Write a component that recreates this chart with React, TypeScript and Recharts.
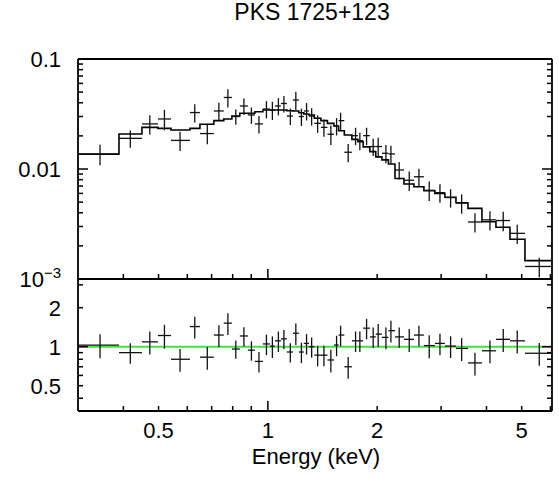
import React from "react";
import { ComposedChart, ErrorBar, Line, ReferenceLine, Scatter, XAxis, YAxis } from "recharts";

// channel bins (keV)
const binEdges = [
  0.3, 0.389, 0.45, 0.498, 0.541, 0.61, 0.65, 0.71, 0.756, 0.796, 0.837, 0.881, 0.921, 0.969, 1.013, 1.045,
  1.086, 1.128, 1.172, 1.217, 1.256, 1.297, 1.343, 1.4, 1.459, 1.52, 1.566, 1.624, 1.704, 1.77, 1.83, 1.91,
  1.982, 2.061, 2.148, 2.239, 2.37, 2.525, 2.69, 2.884, 3.073, 3.296, 3.556, 3.886, 4.247, 4.642, 5.105, 6.06,
];
const energy = [
  0.345, 0.418, 0.473, 0.519, 0.573, 0.629, 0.681, 0.733, 0.776, 0.816, 0.859, 0.901, 0.945, 0.991, 1.029, 1.069,
  1.107, 1.153, 1.194, 1.237, 1.278, 1.32, 1.371, 1.427, 1.491, 1.546, 1.586, 1.664, 1.744, 1.792, 1.87, 1.95,
  2.013, 2.114, 2.182, 2.3, 2.451, 2.606, 2.782, 2.978, 3.186, 3.417, 3.718, 4.089, 4.448, 4.861, 5.59,
];
const flux = [
  0.0137, 0.019, 0.0257, 0.0285, 0.0182, 0.0326, 0.021, 0.0337, 0.0447, 0.03, 0.0374, 0.031, 0.0257, 0.0351, 0.0344,
  0.0374, 0.0394, 0.0303, 0.0424, 0.03, 0.0337, 0.0303, 0.026, 0.0239, 0.0207, 0.0246, 0.0275, 0.0142, 0.0201,
  0.0181, 0.0201, 0.016, 0.016, 0.0139, 0.0137, 0.0098, 0.0079, 0.0085, 0.0064, 0.0061, 0.0055, 0.0049, 0.0033,
  0.00345, 0.0034, 0.0026, 0.0013,
];
const model = [
  0.0136, 0.0208, 0.0239, 0.0234, 0.0226, 0.0234, 0.0255, 0.0275, 0.0285, 0.0303, 0.0321, 0.0321, 0.0332, 0.0344,
  0.0344, 0.0344, 0.0344, 0.0339, 0.0337, 0.0325, 0.0316, 0.031, 0.0289, 0.0275, 0.026, 0.0246, 0.0223, 0.0204,
  0.0186, 0.0177, 0.0159, 0.0144, 0.0129, 0.0121, 0.0111, 0.0082, 0.0073, 0.0069, 0.00635, 0.006, 0.00553, 0.00494,
  0.00439, 0.00332, 0.00295, 0.0023, 0.00147,
];
const ratio = [
  1.03, 0.9, 1.09, 1.22, 0.8, 1.43, 0.83, 1.23, 1.52, 0.96, 1.21, 0.94, 0.77, 1.05, 1.01, 1.11, 1.15, 0.91, 1.27,
  0.91, 1.06, 1.0, 0.86, 0.86, 0.79, 1.03, 1.23, 0.7, 1.11, 1.11, 1.39, 1.19, 1.25, 1.18, 1.33, 1.19, 1.14, 1.23,
  1.02, 1.06, 1.01, 0.97, 0.75, 0.93, 1.14, 1.11, 0.89,
];
const relErr = [
  0.21, 0.18, 0.2, 0.21, 0.2, 0.19, 0.2, 0.19, 0.19, 0.16, 0.17, 0.17, 0.18, 0.18, 0.19, 0.18, 0.17, 0.17, 0.19,
  0.18, 0.18, 0.18, 0.18, 0.18, 0.2, 0.18, 0.18, 0.19, 0.18, 0.18, 0.18, 0.18, 0.2, 0.19, 0.19, 0.18, 0.2, 0.18,
  0.2, 0.19, 0.19, 0.2, 0.2, 0.2, 0.2, 0.2, 0.2,
];

const xTicks = [0.4, 0.5, 0.6, 0.7, 0.8, 0.9, 1, 2, 3, 4, 5, 6];
const xTickLabels: Record<string, string> = { "0.5": "0.5", "1": "1", "2": "2", "5": "5" };
const fluxTicks = [
  0.001, 0.002, 0.003, 0.004, 0.005, 0.006, 0.007, 0.008, 0.009, 0.01, 0.02, 0.03, 0.04, 0.05, 0.06, 0.07, 0.08,
  0.09, 0.1,
];
const fluxTickLabels: Record<string, string> = { "0.1": "0.1", "0.01": "0.01", "0.001": "10^−3" };
const ratioTicks = [0.4, 0.5, 0.6, 0.7, 0.8, 0.9, 1, 2, 3];
const ratioTickLabels: Record<string, string> = { "2": "2", "1": "1", "0.5": "0.5" };

const FONT = "'Liberation Sans', Arial, Helvetica, sans-serif";
const X_DOMAIN = [0.3, 6.06];

const specPoints = energy.map((e, i) => ({
  x: e,
  y: flux[i],
  xErr: [e - binEdges[i], binEdges[i + 1] - e],
  yErr: flux[i] * relErr[i],
}));
const ratioPoints = energy.map((e, i) => ({
  x: e,
  y: ratio[i],
  xErr: [e - binEdges[i], binEdges[i + 1] - e],
  yErr: ratio[i] * relErr[i],
}));
const modelSteps = binEdges.map((e, i) => ({ x: e, y: model[Math.min(i, model.length - 1)] }));

const isDecade = (v: number) => Math.abs(Math.log10(v) - Math.round(Math.log10(v))) < 1e-6;

function makeTick(side: "bottom" | "top" | "left" | "right", labels?: Record<string, string>) {
  return (props: any) => {
    const { x, y, payload } = props;
    const v = payload.value;
    const len = isDecade(v) ? 10 : 5;
    let line = null;
    if (side === "bottom") line = <line x1={x} x2={x} y1={y} y2={y - len} />;
    if (side === "top") line = <line x1={x} x2={x} y1={y} y2={y + len} />;
    if (side === "left") line = <line x1={x} x2={x + len} y1={y} y2={y} />;
    if (side === "right") line = <line x1={x} x2={x - len} y1={y} y2={y} />;
    const lab = labels ? labels[String(v)] : undefined;
    let text = null;
    if (lab && side === "bottom") {
      text = (
        <text x={x} y={y + 27} textAnchor="middle" fontSize={22} fill="#000" stroke="none" fontFamily={FONT}>
          {lab}
        </text>
      );
    }
    if (lab && side === "left") {
      const [base, sup] = lab.split("^");
      text = (
        <text x={x - 17} y={y + 8} textAnchor="end" fontSize={22} fill="#000" stroke="none" fontFamily={FONT}>
          {base}
          {sup && (
            <tspan dy={-9} fontSize={15}>
              {sup}
            </tspan>
          )}
        </text>
      );
    }
    return (
      <g stroke="#000" strokeWidth={1.5}>
        {line}
        {text}
      </g>
    );
  };
}

const axisLine = { stroke: "#000", strokeWidth: 1.8 };

export default function App() {
  return (
    <div style={{ position: "absolute", left: 0, top: 0, width: 559, height: 478, background: "#fff", fontFamily: FONT }}>
      <div style={{ position: "absolute", left: 0, top: 1, width: 624, textAlign: "center", fontSize: 23, lineHeight: "23px" }}>
        PKS 1725+123
      </div>

      <div style={{ position: "absolute", left: 0, top: 0 }}>
        <ComposedChart width={559} height={478} margin={{ top: 58, right: 6, bottom: 198, left: 77 }}>
          <XAxis dataKey="x" type="number" scale="log" domain={X_DOMAIN} allowDataOverflow ticks={xTicks} interval={0}
            height={1} tickSize={0} tickMargin={0} tickLine={false} axisLine={axisLine} tick={makeTick("bottom")} />
          <XAxis xAxisId="top" orientation="top" type="number" scale="log" domain={X_DOMAIN} allowDataOverflow ticks={xTicks}
            interval={0} height={1} tickSize={0} tickMargin={0} tickLine={false} axisLine={axisLine} tick={makeTick("top")} />
          <YAxis dataKey="y" type="number" scale="log" domain={[0.001, 0.1]} allowDataOverflow ticks={fluxTicks} interval={0}
            width={1} tickSize={0} tickMargin={0} tickLine={false} axisLine={axisLine} tick={makeTick("left", fluxTickLabels)} />
          <YAxis yAxisId="right" orientation="right" type="number" scale="log" domain={[0.001, 0.1]} allowDataOverflow
            ticks={fluxTicks} interval={0} width={1} tickSize={0} tickMargin={0} tickLine={false} axisLine={axisLine}
            tick={makeTick("right")} />
          <Line data={modelSteps} dataKey="y" type="stepAfter" stroke="#000" strokeWidth={1.6} dot={false} isAnimationActive={false} />
          <Scatter data={specPoints} dataKey="y" shape={() => <g />} isAnimationActive={false}>
            <ErrorBar dataKey="xErr" direction="x" width={0} stroke="#111" strokeWidth={1.3} />
            <ErrorBar dataKey="yErr" direction="y" width={0} stroke="#111" strokeWidth={1.3} />
          </Scatter>
        </ComposedChart>
      </div>

      <div style={{ position: "absolute", left: 0, top: 0 }}>
        <ComposedChart width={559} height={478} margin={{ top: 278, right: 6, bottom: 66, left: 77 }}>
          <XAxis dataKey="x" type="number" scale="log" domain={X_DOMAIN} allowDataOverflow ticks={xTicks} interval={0}
            height={1} tickSize={0} tickMargin={0} tickLine={false} axisLine={axisLine} tick={makeTick("bottom", xTickLabels)} />
          <XAxis xAxisId="top" orientation="top" type="number" scale="log" domain={X_DOMAIN} allowDataOverflow ticks={xTicks}
            interval={0} height={1} tickSize={0} tickMargin={0} tickLine={false} axisLine={axisLine} tick={makeTick("top")} />
          <YAxis dataKey="y" type="number" scale="log" domain={[0.319, 3.33]} allowDataOverflow ticks={ratioTicks} interval={0}
            width={1} tickSize={0} tickMargin={0} tickLine={false} axisLine={axisLine} tick={makeTick("left", ratioTickLabels)} />
          <YAxis yAxisId="right" orientation="right" type="number" scale="log" domain={[0.319, 3.33]} allowDataOverflow
            ticks={ratioTicks} interval={0} width={1} tickSize={0} tickMargin={0} tickLine={false} axisLine={axisLine}
            tick={makeTick("right")} />
          <ReferenceLine y={1} stroke="#3fe23f" strokeWidth={2} />
          <Scatter data={ratioPoints} dataKey="y" shape={() => <g />} isAnimationActive={false}>
            <ErrorBar dataKey="xErr" direction="x" width={0} stroke="#111" strokeWidth={1.3} />
            <ErrorBar dataKey="yErr" direction="y" width={0} stroke="#111" strokeWidth={1.3} />
          </Scatter>
        </ComposedChart>
      </div>

      <div style={{ position: "absolute", left: 0, top: 446, width: 632, textAlign: "center", fontSize: 22, lineHeight: "22px" }}>
        Energy (keV)
      </div>
    </div>
  );
}
